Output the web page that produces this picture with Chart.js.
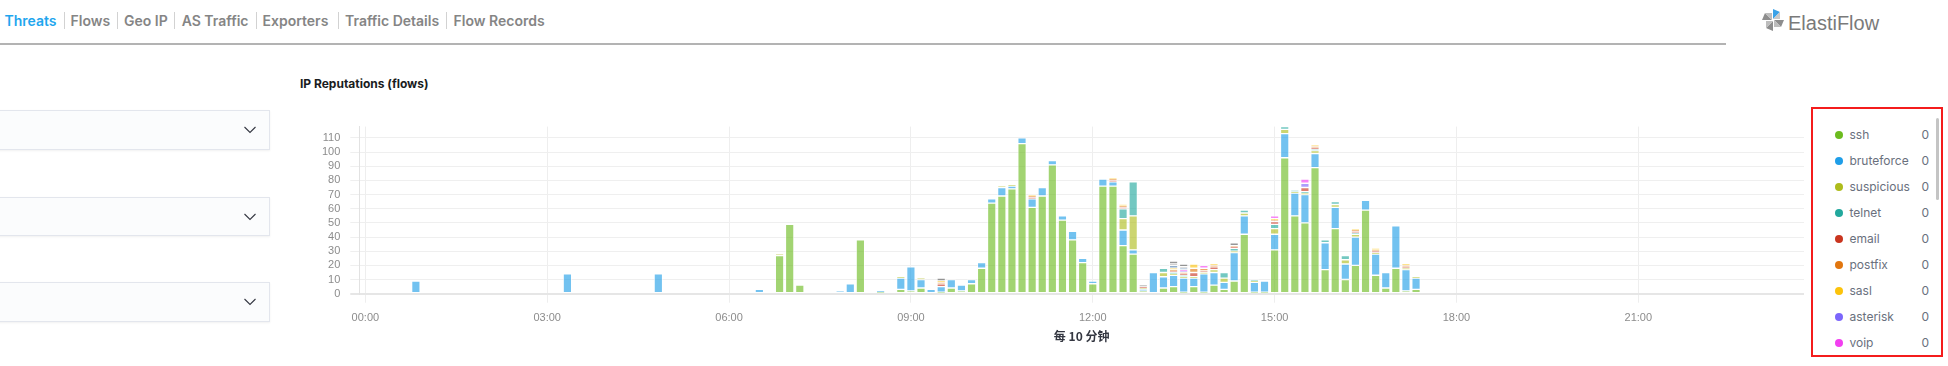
<!DOCTYPE html>
<html><head><meta charset="utf-8">
<script src="https://cdn.jsdelivr.net/npm/chart.js@4.4.1/dist/chart.umd.min.js"></script>
<style>
html,body{margin:0;padding:0;background:#fff;width:1948px;height:366px;overflow:hidden;font-family:Inter,"Noto Sans",sans-serif;}
.nav{position:absolute;top:11.7px;font-size:14px;font-weight:600;color:#858585;line-height:18px;white-space:nowrap;}
.sep{position:absolute;top:12px;width:1px;height:17px;background:#d2d2d2;}
#navline{position:absolute;left:0;top:42.7px;width:1726px;height:2px;background:#b3b3b3;}
.box{position:absolute;left:-2px;width:270px;height:37.5px;border:1px solid #e3e6ed;background:#fbfcfd;box-shadow:0 1px 2px rgba(0,0,0,0.06);}
.box svg{position:absolute;left:245px;top:15px;}
#title{position:absolute;left:300px;top:76px;font-size:12px;font-weight:700;color:#1a1c21;line-height:16px;white-space:nowrap;}
#chartwrap{position:absolute;left:300px;top:109.5px;width:1504px;height:238.5px;}
#legend{position:absolute;left:1811px;top:107px;width:128px;height:246px;border:2.5px solid #f41c1c;overflow:hidden;}
.li{position:absolute;left:0;width:128px;height:26px;font-size:12px;color:#69707d;line-height:26px;}
.li .dot{position:absolute;left:22px;top:9px;width:8px;height:8px;border-radius:50%;}
.li .nm{position:absolute;left:36.5px;top:0;}
.li .vl{position:absolute;right:12px;top:0;}
#thumb{position:absolute;left:1935.5px;top:118px;width:3.5px;height:82px;background:#c4c4c4;border-radius:2px;}
#logo{position:absolute;left:1760px;top:8px;}
#logotext{position:absolute;left:1788px;top:10px;font-family:"Liberation Sans",sans-serif;font-size:20px;color:#7a7a7a;line-height:26px;white-space:nowrap;}
</style>
</head>
<body>
<div class="nav" style="left:4.5px;color:#1fa6ee;">Threats</div>
<div class="sep" style="left:63.8px"></div>
<div class="nav" style="left:70.5px">Flows</div>
<div class="sep" style="left:117px"></div>
<div class="nav" style="left:124px">Geo IP</div>
<div class="sep" style="left:174px"></div>
<div class="nav" style="left:181.7px">AS Traffic</div>
<div class="sep" style="left:255.8px"></div>
<div class="nav" style="left:262.5px">Exporters</div>
<div class="sep" style="left:338px"></div>
<div class="nav" style="left:345px">Traffic Details</div>
<div class="sep" style="left:446px"></div>
<div class="nav" style="left:453.6px">Flow Records</div>
<div id="navline"></div>

<svg id="logo" width="26" height="24" viewBox="0 0 26 24">
  <g transform="rotate(0 13 12)"><polygon points="13,11 13,1 20,4" fill="#3aa2e8"/><polygon points="13,11 20,4 20,11" fill="#c9c9c9"/></g>
  <g transform="rotate(90 13 12)"><polygon points="13,11 13,1 20,4" fill="#8d8d8d"/><polygon points="13,11 20,4 20,11" fill="#bdbdbd"/></g>
  <g transform="rotate(180 13 12)"><polygon points="13,11 13,1 20,4" fill="#8d8d8d"/><polygon points="13,11 20,4 20,11" fill="#bdbdbd"/></g>
  <g transform="rotate(270 13 12)"><polygon points="13,11 13,1 20,4" fill="#8d8d8d"/><polygon points="13,11 20,4 20,11" fill="#bdbdbd"/></g>
</svg>
<div id="logotext">ElastiFlow</div>

<div class="box" style="top:110.3px"><svg width="12" height="8" viewBox="0 0 12 8"><polyline points="0.5,1 6,6.5 11.5,1" fill="none" stroke="#343741" stroke-width="1.1"/></svg></div>
<div class="box" style="top:196.7px"><svg width="12" height="8" viewBox="0 0 12 8"><polyline points="0.5,1 6,6.5 11.5,1" fill="none" stroke="#343741" stroke-width="1.1"/></svg></div>
<div class="box" style="top:282.3px"><svg width="12" height="8" viewBox="0 0 12 8"><polyline points="0.5,1 6,6.5 11.5,1" fill="none" stroke="#343741" stroke-width="1.1"/></svg></div>

<div id="title">IP Reputations (flows)</div>
<div id="chartwrap"><canvas id="c" width="1504" height="238"></canvas></div>
<div id="legend"></div>
<div id="thumb"></div>

<script>
// ---- data ----
const bucketTimes = ['00:50','03:20','04:50','06:30','06:50','07:00','07:10','07:50','08:00','08:10',
  '08:30','08:50','09:00','09:10','09:20','09:30','09:40','09:50','10:00','10:10',
  '10:20','10:30','10:40','10:50','11:00','11:10','11:20','11:30','11:40','11:50',
  '12:00','12:10','12:20','12:30','12:40','12:50','13:00','13:10','13:20','13:30',
  '13:40','13:50','14:00','14:10','14:20','14:30','14:40','14:50','15:00','15:10',
  '15:20','15:30','15:40','15:50','16:00','16:10','16:20','16:30','16:40','16:50',
  '17:00','17:10','17:20'];
const ssh =        [0,0,0,0,27,49,6,0,0,38, 1,3,2,4,0,1,4,2,7,18, 64,69,74,106,61,69,91,52,38,22, 7,76,76,34,28,2,0,4,5,1, 5,1,6,3,9,42,1,1,31,96, 55,50,89,17,46,10,20,59,13,4, 18,2,3];
const bruteforce = [9,14,14,3,0,0,0,2,7,0, 1,8,17,6,3,4,6,4,3,4, 3,6,2,4,6,6,3,3,6,3, 2,5,3,11,3,1,15,8,8,10, 6,13,9,5,20,13,7,8,11,17, 16,20,10,19,15,11,20,7,15,11, 30,15,8];
const suspicious = [0,0,0,0,1,0,0,0,0,0, 0,1,0,1,0,0,0,0,0,0, 0,1,1,0,0,0,0,0,0,0, 0,0,0,8,24,1,0,3,1,1, 1,1,2,3,1,2,1,0,4,3, 1,1,2,0,2,3,2,0,1,0, 0,1,1];
const telnet =     [0,0,0,0,0,0,0,0,0,0, 0,0,0,0,0,0,0,0,0,0, 0,0,0,0,0,0,0,0,0,0, 0,0,0,7,24,0,0,3,1,1, 0,0,0,4,2,2,1,0,3,2, 1,1,1,2,2,3,1,0,0,0, 0,0,0];
const email =      [0,0,0,0,0,0,0,0,0,0, 0,0,0,0,0,2,0,0,0,0, 0,0,0,0,1,0,0,0,0,0, 0,0,1,1,0,1,0,0,1,1, 3,1,2,0,1,0,0,0,2,0, 0,3,1,0,0,0,1,0,1,0, 0,1,0];
const postfix =    [0,0,0,0,0,0,0,0,0,0, 0,0,0,0,0,1,0,0,0,0, 0,0,0,0,1,0,0,0,0,0, 0,0,1,1,0,0,0,0,1,1, 3,2,1,0,1,0,0,0,1,0, 0,0,1,0,0,0,1,0,1,0, 0,1,0];
const sasl =       [0,0,0,0,0,0,0,0,0,0, 0,0,0,0,0,1,0,0,0,0, 0,0,0,0,1,0,0,0,0,0, 0,0,1,1,0,0,0,0,1,0, 3,0,1,0,0,0,0,0,1,0, 0,0,1,0,0,0,1,0,1,0, 0,1,0];
const asterisk =   [0,0,0,0,0,0,0,0,0,0, 0,0,0,0,0,0,0,0,0,0, 0,0,0,0,0,0,0,0,0,0, 0,0,0,0,0,0,0,0,0,1, 0,0,0,0,0,0,0,0,0,0, 0,3,0,0,0,0,0,0,0,0, 0,0,0];
const voip =       [0,0,0,0,0,0,0,0,0,0, 0,0,0,0,0,0,0,0,0,0, 0,0,0,0,0,0,0,0,0,0, 0,0,0,0,0,0,0,0,0,1, 0,2,0,0,0,0,0,0,2,0, 0,3,0,0,0,0,0,0,0,0, 0,0,0];
const tor =        [0,0,0,0,0,0,0,0,0,0, 0,0,0,0,0,0,0,0,0,0, 0,0,0,0,0,0,0,0,0,0, 0,0,0,0,0,0,0,0,2,1, 0,0,0,0,0,0,0,0,0,0, 0,0,0,0,0,0,0,0,0,0, 0,0,0];
const spam =       [0,0,0,0,0,0,0,0,0,0, 0,0,0,0,0,0,0,0,0,0, 0,0,0,0,0,0,0,0,0,0, 0,0,0,0,0,0,0,0,1,1, 0,0,0,0,0,0,0,0,0,0, 0,0,0,0,0,0,0,0,0,0, 0,0,0];
const malware =    [0,0,0,0,0,0,0,0,0,0, 0,0,0,0,0,2,0,0,0,0, 0,0,0,0,0,0,0,0,0,0, 0,0,0,0,0,1,0,0,2,2, 0,0,0,0,2,0,0,0,0,0, 0,0,0,0,0,0,0,0,0,0, 0,0,0];
const seriesNames = ['ssh','bruteforce','suspicious','telnet','email','postfix','sasl','asterisk','voip','tor','spam','malware'];
const seriesColors = ['#6cbb1f','#1f9ee8','#aebc1c','#22a89d','#c9351f','#e1760f','#fcc30b','#7c66fb','#f23ff0','#4f7fae','#9b9b9b','#5a5a5a'];
const seriesValues = [ssh,bruteforce,suspicious,telnet,email,postfix,sasl,asterisk,voip,tor,spam,malware];
const legendValues = ['0','0','0','0','0','0','0','0','0','0','0','0'];
const xTickLabels = ['00:00','03:00','06:00','09:00','12:00','15:00','18:00','21:00'];
const yTickValues = [0,10,20,30,40,50,60,70,80,90,100,110];
const xAxisTitle = '每 10 分钟';
const xRangeStart = '-00:06', xRangeEnd = '23:44';

// ---- helpers ----
function toMin(s){const neg=s[0]==='-';const t=neg?s.slice(1):s;const [h,m]=t.split(':').map(Number);const v=h*60+m;return neg?-v:v;}
function rgba(hex,a){const n=parseInt(hex.slice(1),16);return `rgba(${(n>>16)&255},${(n>>8)&255},${n&255},${a})`;}
const xTickValues = xTickLabels.map(toMin);
const totals = bucketTimes.map((_,j)=>seriesValues.reduce((s,arr)=>s+arr[j],0));
const yMax = Math.max(...totals);

const datasets = seriesValues.map((vals,i)=>({
  label: seriesNames[i],
  data: vals.map((v,j)=> v ? {x: toMin(bucketTimes[j]), y: v} : null).filter(Boolean),
  backgroundColor: rgba(seriesColors[i],0.63),
  borderColor: 'rgba(255,255,255,0.55)',
  borderWidth: 1,
  borderSkipped: false,
  barThickness: 8.5
}));

const tickFont = "'Liberation Sans',Roboto,sans-serif";
new Chart(document.getElementById('c'), {
  type: 'bar',
  data: {datasets},
  options: {
    responsive: false, animation: false, devicePixelRatio: 1,
    layout: {padding: 0},
    plugins: {legend: {display: false}, tooltip: {enabled: false}},
    scales: {
      x: {
        type: 'linear', stacked: true, offset: false,
        min: toMin(xRangeStart), max: toMin(xRangeEnd),
        grid: {color: '#eeeeee', lineWidth: 1, tickLength: 9, offset: false},
        border: {display: false},
        ticks: {autoSkip: false, maxRotation: 0, padding: 8.5, color: '#8c8c8c',
          font: {family: tickFont, size: 11},
          callback: v => { const i = xTickValues.indexOf(v); return i >= 0 ? xTickLabels[i] : ''; }},
        afterBuildTicks: s => { s.ticks = xTickValues.map(v => ({value: v})); },
        afterFit: s => { s.height = 54.3; },
        title: {display: true, text: xAxisTitle, color: '#343741',
          font: {family: "'Noto Sans CJK SC','Noto Sans',sans-serif", size: 12, weight: 'bold'},
          padding: {top: 0, bottom: 4}}
      },
      y: {
        stacked: true, min: 0, max: yMax,
        grid: {color: c => c.tick && c.tick.value === 0 ? '#e6e6e6' : '#efefef',
               lineWidth: c => c.tick && c.tick.value === 0 ? 2 : 1, tickLength: 9},
        border: {display: true, color: '#e2e2e2', width: 1},
        ticks: {autoSkip: false, padding: 10, color: '#8c8c8c', font: {family: tickFont, size: 11}},
        afterBuildTicks: s => { s.ticks = yTickValues.map(v => ({value: v})); },
        afterFit: s => { s.width = 59.3; }
      }
    }
  }
});

// ---- legend ----
const lg = document.getElementById('legend');
seriesNames.forEach((n,i)=>{
  const d = document.createElement('div');
  d.className = 'li';
  d.style.top = (12.5 + i*26) + 'px';
  d.innerHTML = `<span class="dot" style="background:${seriesColors[i]}"></span><span class="nm">${n}</span><span class="vl">${legendValues[i]}</span>`;
  lg.appendChild(d);
});
</script>
</body></html>
